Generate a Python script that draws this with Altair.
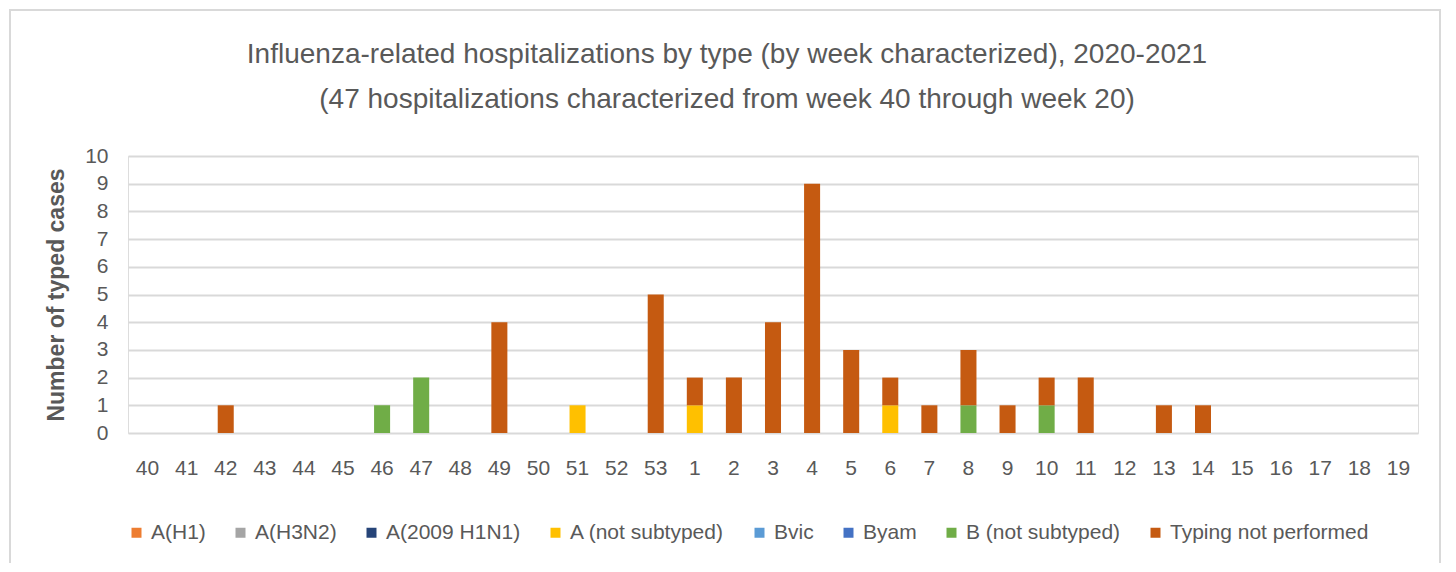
import altair as alt
import pandas as pd

weeks = ["40", "41", "42", "43", "44", "45", "46", "47", "48", "49", "50", "51", "52", "53",
         "1", "2", "3", "4", "5", "6", "7", "8", "9", "10", "11", "12", "13", "14",
         "15", "16", "17", "18", "19"]

categories = ["A(H1)", "A(H3N2)", "A(2009 H1N1)", "A (not subtyped)", "Bvic", "Byam",
              "B (not subtyped)", "Typing not performed"]
colors = ["#ED7D31", "#A5A5A5", "#264478", "#FFC000", "#5B9BD5", "#4472C4", "#70AD47", "#C55A11"]

a_not_subtyped = [0, 0, 0, 0, 0, 0, 0, 0, 0, 0, 0, 1, 0, 0,
                  1, 0, 0, 0, 0, 1, 0, 0, 0, 0, 0, 0, 0, 0,
                  0, 0, 0, 0, 0]
b_not_subtyped = [0, 0, 0, 0, 0, 0, 1, 2, 0, 0, 0, 0, 0, 0,
                  0, 0, 0, 0, 0, 0, 0, 1, 0, 1, 0, 0, 0, 0,
                  0, 0, 0, 0, 0]
typing_not_performed = [0, 0, 1, 0, 0, 0, 0, 0, 0, 4, 0, 0, 0, 5,
                        1, 2, 4, 9, 3, 1, 1, 2, 1, 1, 2, 0, 1, 1,
                        0, 0, 0, 0, 0]

rows = []
for series_name, vals in [("A (not subtyped)", a_not_subtyped),
                          ("B (not subtyped)", b_not_subtyped),
                          ("Typing not performed", typing_not_performed)]:
    for w, v in zip(weeks, vals):
        if v > 0:
            rows.append({"week": w, "type": series_name, "count": v,
                         "ord": categories.index(series_name)})
df = pd.DataFrame(rows)

FONT = "Liberation Sans, sans-serif"
GRAY = "#595959"

bars = alt.Chart(df).mark_bar().encode(
    x=alt.X("week:N", sort=weeks,
            scale=alt.Scale(domain=weeks, paddingInner=0.59, paddingOuter=0.295),
            axis=alt.Axis(title=None, labelAngle=0, labelFontSize=21, labelColor=GRAY,
                          labelFont=FONT, ticks=False, domain=False, labelPadding=24)),
    y=alt.Y("count:Q", scale=alt.Scale(domain=[0, 10]),
            axis=alt.Axis(title="Number of typed cases", titleFontSize=23, titleFontWeight="bold",
                          titleColor=GRAY, titleFont=FONT, titlePadding=16,
                          values=list(range(0, 11)), labelFontSize=21, labelColor=GRAY,
                          labelFont=FONT, ticks=False, domain=False, labelPadding=20,
                          gridColor="#D9D9D9", gridWidth=2)),
    color=alt.Color("type:N",
                    scale=alt.Scale(domain=categories, range=colors),
                    legend=alt.Legend(title=None, orient="none", direction="horizontal",
                                      legendX=-2, legendY=366, columns=8,
                                      symbolType="square", symbolSize=100, symbolStrokeWidth=0,
                                      labelFontSize=21, labelColor=GRAY, labelFont=FONT,
                                      labelLimit=0, columnPadding=24, symbolOffset=0,
                                      labelOffset=4)),
    order=alt.Order("ord:Q", sort="ascending"),
)

frame = alt.Chart(alt.Data(values=[{}])).mark_rect(filled=False, stroke="#D9D9D9", strokeWidth=2).encode(
    x=alt.value(-118), x2=alt.value(1312), y=alt.value(-146), y2=alt.value(440)
)

chart = alt.layer(frame, bars).properties(
    width=1290, height=277,
    title=alt.TitleParams(
        text=["Influenza-related hospitalizations by type (by week characterized), 2020-2021",
              "(47 hospitalizations characterized from week 40 through week 20)"],
        fontSize=28, font=FONT, fontWeight="normal", color=GRAY, anchor="middle",
        lineHeight=45, dx=-46, offset=-105),
    padding={"left": 120, "top": 148, "right": 30, "bottom": 130},
    autosize=alt.AutoSizeParams(type="none"),
).configure_view(stroke=None).configure(background="white")

chart.save("out.html", embed_options={"renderer": "svg", "actions": False})
